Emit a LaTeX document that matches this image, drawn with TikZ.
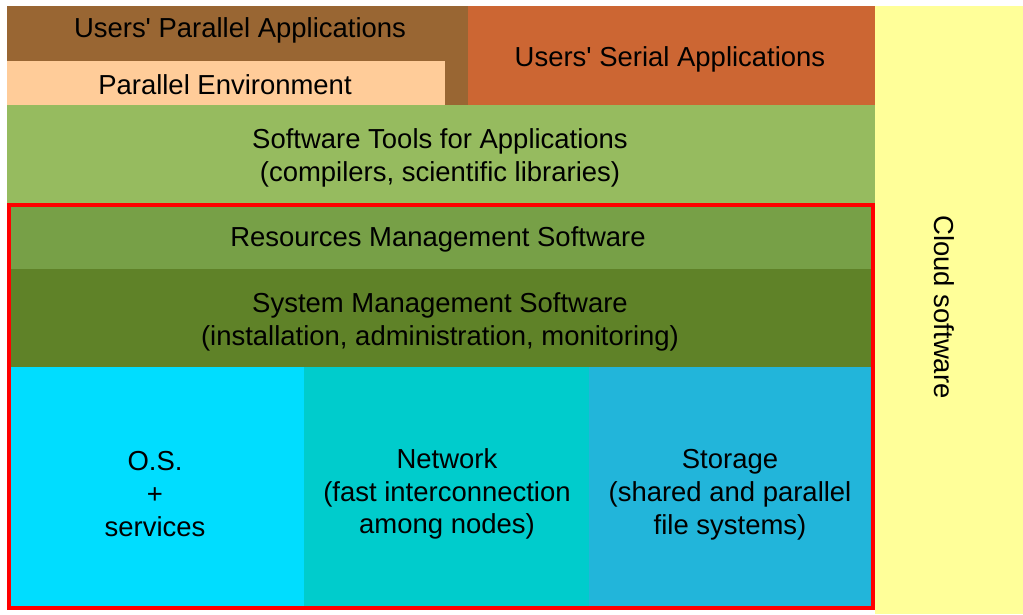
\documentclass[tikz,border=0pt]{standalone}
\usepackage{fontspec}
\setmainfont{Liberation Sans}
\definecolor{parbrown}{HTML}{996633}
\definecolor{envpeach}{HTML}{FFCC99}
\definecolor{serorange}{HTML}{CC6633}
\definecolor{cloudyellow}{HTML}{FFFF99}
\definecolor{toolgreen}{HTML}{96BB5F}
\definecolor{resgreen}{HTML}{77A047}
\definecolor{sysgreen}{HTML}{5F8228}
\definecolor{oscyan}{HTML}{00DDFF}
\definecolor{netteal}{HTML}{00CCCC}
\definecolor{storblue}{HTML}{22B5DA}
\tikzset{
  layer/.style={align=center, font=\fontsize{20.6}{24.6}\selectfont}
}
\begin{document}
\begin{tikzpicture}[x=0.75pt, y=-0.75pt]
    \useasboundingbox (0,0) rectangle (1023,614);

    % Colonna Cloud
    \fill[cloudyellow] (875,6) rectangle (1023,614);
    \node[layer, rotate=-90] (cloud) at (944,307) {Cloud software};

    % Applicazioni parallele e ambiente
    \fill[parbrown] (7,6) rectangle (468,105);
    \fill[envpeach] (7,61) rectangle (445,105);
    \node[layer] (parapp) at (240,30) {Users\textquotesingle{} Parallel Applications};
    \node[layer] (parenv) at (225,85) {Parallel Environment};

    % Applicazioni seriali
    \fill[serorange] (468,6) rectangle (875,105);
    \node[layer] (serapp) at (670,59) {Users\textquotesingle{} Serial Applications};

    % Strumenti software
    \fill[toolgreen] (7,105) rectangle (875,205);
    \node[layer] (tools) at (440,158) {Software Tools for Applications\\(compilers, scientific libraries)};

    % Gestione risorse e sistema
    \fill[resgreen] (9,205) rectangle (873,269);
    \node[layer] (resmgmt) at (438,239) {Resources Management Software};
    \fill[sysgreen] (9,269) rectangle (873,367);
    \node[layer] (sysmgmt) at (440,322) {System Management Software\\(installation, administration, monitoring)};

    % Hardware: O.S., rete, storage
    \fill[oscyan] (9,367) rectangle (304,608);
    \node[layer] (os) at (155,494) {O.S.\\+\\services};
    \fill[netteal] (304,367) rectangle (589,608);
    \node[layer] (net) at (447,494) {Network\\(fast interconnection\\among nodes)};
    \fill[storblue] (589,367) rectangle (873,608);
    \node[layer] (storage) at (730,495) {Storage\\(shared and parallel\\file systems)};

    % Riquadro rosso
    \draw[red, line width=3pt] (9,205) rectangle (873,608);
\end{tikzpicture}
\end{document}
